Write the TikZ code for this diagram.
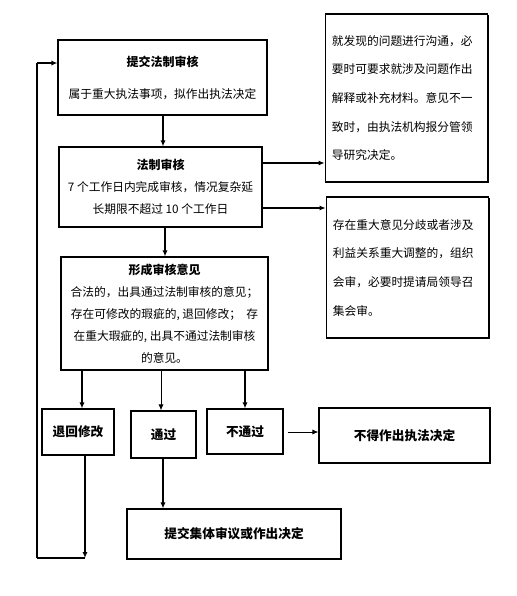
\documentclass[tikz,border=0pt]{standalone}
\usepackage{fontspec}
\setmainfont{Noto Sans CJK SC}
\usetikzlibrary{arrows.meta,shadows}
\begin{document}
\begin{tikzpicture}[x=0.75pt,y=-0.75pt,
  box/.style={draw=black,line width=0.8pt,fill=white,inner sep=0pt,
    drop shadow={shadow xshift=0.9pt,shadow yshift=-0.9pt,opacity=1,fill=black}},
  body/.style={font={\fontsize{8.8pt}{16.5pt}\selectfont}},
  bigbody/.style={font={\fontsize{8.8pt}{21.5pt}\selectfont}},
  ttl/.style={font={\fontsize{9.5pt}{11pt}\selectfont\bfseries}},
  arr/.style={-{Latex[length=4.5pt,width=3.8pt]},line width=1.1pt},
  tarr/.style={-{Latex[length=4.5pt,width=3.8pt]},line width=0.7pt},
  ln/.style={line width=1.1pt}]
\useasboundingbox (0,0) rectangle (517,596);
% boxes
\node[box,body,align=center,minimum width=156.75pt,minimum height=56.25pt] (b1) at (162.5,77.5)
  {{\bfseries\fontsize{9pt}{11pt}\selectfont 提交法制审核}\\[7.5pt]属于重大执法事项，拟作出执法决定};
\node[box,bigbody,align=left,text width=112pt,inner xsep=5pt,minimum height=126pt] (rt) at (406.5,98)
  {就发现的问题进行沟通，必\\要时可要求就涉及问题作出\\解释或补充材料。意见不一\\致时，由执法机构报分管领\\导研究决定。};
\node[box,body,align=center,minimum width=152.25pt,minimum height=60pt] (b2) at (160.5,187)
  {{\bfseries\fontsize{9pt}{11pt}\selectfont 法制审核}\\7 个工作日内完成审核，情况复杂延\\长期限不超过 10 个工作日};
\node[box,bigbody,align=left,text width=112pt,inner xsep=5pt,minimum height=105.75pt] (rb) at (407.5,267.5)
  {存在重大意见分歧或者涉及\\利益关系重大调整的，组织\\会审，必要时提请局领导召\\集会审。};
\node[box,body,align=center,minimum width=155.25pt,minimum height=84.75pt] (b3) at (164.5,313.5)
  {{\bfseries\fontsize{9pt}{11pt}\selectfont 形成审核意见}\\合法的，出具通过法制审核的意见；\\存在可修改的瑕疵的, 退回修改；\ \ 存\\在重大瑕疵的, 出具不通过法制审核\\的意见。};
\node[box,ttl,minimum width=54pt,minimum height=34.5pt] (th) at (78,432) {退回修改};
\node[box,ttl,minimum width=48.75pt,minimum height=35.25pt] (tg) at (163.5,434.5) {通过};
\node[box,ttl,minimum width=57pt,minimum height=33.75pt] (btg) at (245,431.5) {不通过};
\node[box,ttl,minimum width=128.25pt,minimum height=41.25pt] (bd) at (404.5,435.5) {不得作出执法决定};
\node[box,ttl,minimum width=160.5pt,minimum height=37.5pt] (jt) at (234,534) {提交集体审议或作出决定};
% loop coordinates
\coordinate (l1) at (85,558);
\coordinate (l2) at (37,558);
\coordinate (l3) at (37,63);
% connectors
\draw[arr] (b1.south -| 163,0) -- (b2.north -| 163,0);
\draw[arr] (b2.south -| 165,0) -- (b3.north -| 165,0);
\draw[arr] (b2.east |- 0,163) -- (rt.west |- 0,163);
\draw[arr] (b2.east |- 0,208) -- (rb.west |- 0,208);
\draw[arr] (b3.south -| 82,0) -- (th.north -| 82,0);
\draw[tarr] (b3.south -| 161,0) -- (tg.north -| 161,0);
\draw[arr] (b3.south -| 245,0) -- (btg.north -| 245,0);
\draw[tarr] ([xshift=3pt]btg.east |- 0,432) -- (bd.west |- 0,432);
\draw[arr] (tg.south -| 163,0) -- (jt.north -| 163,0);
\draw[arr] (th.south -| 85,0) -- (l1);
\draw[ln] (l1) -- (l2);
\draw[line width=0.8pt] (l2) -- (l3);
\draw[arr] (l3) -- (b1.west |- l3);
\end{tikzpicture}
\end{document}
